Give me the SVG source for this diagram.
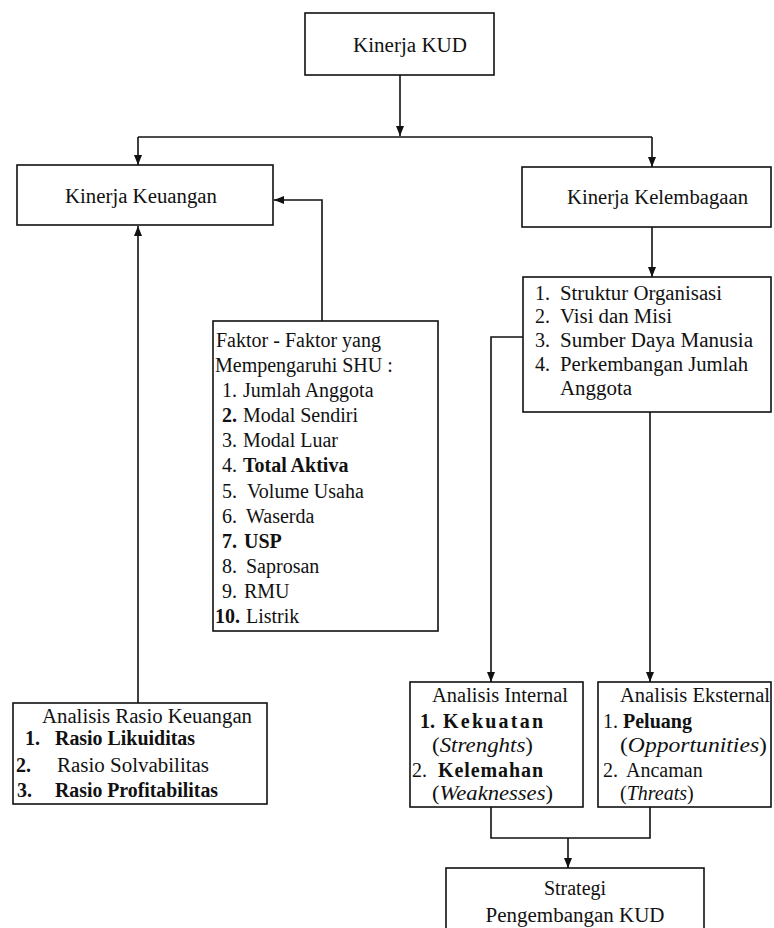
<svg xmlns="http://www.w3.org/2000/svg" width="774" height="928" viewBox="0 0 774 928">
<style>
.bg{fill:#ffffff}
.box{fill:#ffffff;stroke:#111;stroke-width:1.6}
.ln{fill:none;stroke:#111;stroke-width:1.6}
.t{font-family:'Liberation Serif','DejaVu Serif','Times New Roman',serif;font-size:20px;fill:#111}
.b{font-weight:bold}
.i{font-style:italic}
.c{text-anchor:middle}
</style>
<defs>
<marker id="ah" markerUnits="userSpaceOnUse" markerWidth="10" markerHeight="8" refX="10" refY="4" orient="auto">
<path d="M0,0 L10,4 L0,8 z" fill="#111"/>
</marker>
</defs>
<rect class="bg" x="0" y="0" width="774" height="928"/>

<g id="connectors">
<line class="ln" x1="400" y1="75" x2="400" y2="136" marker-end="url(#ah)"/>
<line class="ln" x1="138" y1="137" x2="652" y2="137"/>
<line class="ln" x1="138" y1="137" x2="138" y2="165" marker-end="url(#ah)"/>
<line class="ln" x1="652" y1="137" x2="652" y2="167" marker-end="url(#ah)"/>
<polyline class="ln" points="322,321 322,200 274,200" marker-end="url(#ah)"/>
<line class="ln" x1="138" y1="703" x2="138" y2="226" marker-end="url(#ah)"/>
<line class="ln" x1="652" y1="227" x2="652" y2="277" marker-end="url(#ah)"/>
<polyline class="ln" points="523,337 491,337 491,682" marker-end="url(#ah)"/>
<line class="ln" x1="650" y1="412" x2="650" y2="682" marker-end="url(#ah)"/>
<polyline class="ln" points="491,807 491,838 650,838 650,807"/>
<line class="ln" x1="568" y1="838" x2="568" y2="868" marker-end="url(#ah)"/>
</g>

<g id="kinerja-kud" font-family="Liberation Serif, serif">
<rect class="box" x="305" y="13" width="189" height="62"/>
<text class="t" x="353" y="52" textLength="114" lengthAdjust="spacingAndGlyphs">Kinerja KUD</text>
</g>

<g id="kinerja-keuangan">
<rect class="box" x="17" y="165" width="256" height="60"/>
<text class="t" x="65" y="203" textLength="152" lengthAdjust="spacingAndGlyphs">Kinerja Keuangan</text>
</g>

<g id="kinerja-kelembagaan">
<rect class="box" x="522" y="167" width="249" height="60"/>
<text class="t" x="567" y="204" textLength="181" lengthAdjust="spacingAndGlyphs">Kinerja Kelembagaan</text>
</g>

<g id="aspek-kelembagaan">
<rect class="box" x="523" y="277" width="248" height="135"/>
<text class="t" x="535" y="300">1.</text>
<text class="t" x="560" y="300" textLength="162" lengthAdjust="spacingAndGlyphs">Struktur Organisasi</text>
<text class="t" x="535" y="323">2.</text>
<text class="t" x="560" y="323" textLength="112" lengthAdjust="spacingAndGlyphs">Visi dan Misi</text>
<text class="t" x="535" y="347">3.</text>
<text class="t" x="560" y="347" textLength="193" lengthAdjust="spacingAndGlyphs">Sumber Daya Manusia</text>
<text class="t" x="535" y="371">4.</text>
<text class="t" x="560" y="371" textLength="188" lengthAdjust="spacingAndGlyphs">Perkembangan Jumlah</text>
<text class="t" x="560" y="395" textLength="72" lengthAdjust="spacingAndGlyphs">Anggota</text>
</g>

<g id="faktor-shu">
<rect class="box" x="213" y="321" width="225" height="310"/>
<text class="t" x="216" y="347">Faktor - Faktor yang</text>
<text class="t" x="215" y="372">Mempengaruhi SHU :</text>
<text class="t" x="222" y="397">1.</text><text class="t" x="243" y="397">Jumlah Anggota</text>
<text class="t b" x="222" y="422">2.</text><text class="t" x="243" y="422">Modal Sendiri</text>
<text class="t" x="222" y="447">3.</text><text class="t" x="243" y="447">Modal Luar</text>
<text class="t" x="222" y="472">4.</text><text class="t b" x="243" y="472">Total Aktiva</text>
<text class="t" x="222" y="498">5.</text><text class="t" x="247" y="498">Volume Usaha</text>
<text class="t" x="222" y="523">6.</text><text class="t" x="246" y="523">Waserda</text>
<text class="t b" x="222" y="548">7.</text><text class="t b" x="244" y="548">USP</text>
<text class="t" x="222" y="573">8.</text><text class="t" x="246" y="573">Saprosan</text>
<text class="t" x="222" y="598">9.</text><text class="t" x="244" y="598">RMU</text>
<text class="t b" x="215" y="623">10.</text><text class="t" x="246" y="623">Listrik</text>
</g>

<g id="analisis-rasio">
<rect class="box" x="13" y="703" width="254" height="101"/>
<text class="t" x="42" y="723" textLength="210" lengthAdjust="spacingAndGlyphs">Analisis Rasio Keuangan</text>
<text class="t b" x="25" y="745">1.</text>
<text class="t b" x="55" y="745" textLength="140" lengthAdjust="spacingAndGlyphs">Rasio Likuiditas</text>
<text class="t b" x="16" y="772">2.</text>
<text class="t" x="57" y="772" textLength="152" lengthAdjust="spacingAndGlyphs">Rasio Solvabilitas</text>
<text class="t b" x="17" y="797">3.</text>
<text class="t b" x="55" y="797" textLength="163" lengthAdjust="spacingAndGlyphs">Rasio Profitabilitas</text>
</g>

<g id="analisis-internal">
<rect class="box" x="410" y="682" width="173" height="125"/>
<text class="t" x="432" y="702" textLength="136" lengthAdjust="spacingAndGlyphs">Analisis Internal</text>
<text class="t b" x="420" y="728">1.</text>
<text class="t b" x="443" y="728" textLength="100" lengthAdjust="spacing">Kekuatan</text>
<text class="t" x="432" y="752" textLength="101" lengthAdjust="spacingAndGlyphs">(<tspan class="i">Strenghts</tspan>)</text>
<text class="t" x="412" y="777">2.</text>
<text class="t b" x="438" y="777" textLength="105" lengthAdjust="spacing">Kelemahan</text>
<text class="t" x="432" y="800" textLength="121" lengthAdjust="spacingAndGlyphs">(<tspan class="i">Weaknesses</tspan>)</text>
</g>

<g id="analisis-eksternal">
<rect class="box" x="598" y="682" width="173" height="125"/>
<text class="t" x="620" y="702" textLength="150" lengthAdjust="spacingAndGlyphs">Analisis Eksternal</text>
<text class="t" x="603" y="728">1.</text>
<text class="t b" x="623" y="728">Peluang</text>
<text class="t" x="620" y="752" textLength="147" lengthAdjust="spacingAndGlyphs">(<tspan class="i">Opportunities</tspan>)</text>
<text class="t" x="603" y="777">2.</text>
<text class="t" x="626" y="777">Ancaman</text>
<text class="t" x="620" y="800">(<tspan class="i">Threats</tspan>)</text>
</g>

<g id="strategi">
<rect class="box" x="446" y="868" width="258" height="80"/>
<text class="t c" x="575" y="895">Strategi</text>
<text class="t c" x="575" y="922" textLength="179" lengthAdjust="spacingAndGlyphs">Pengembangan KUD</text>
</g>
</svg>
